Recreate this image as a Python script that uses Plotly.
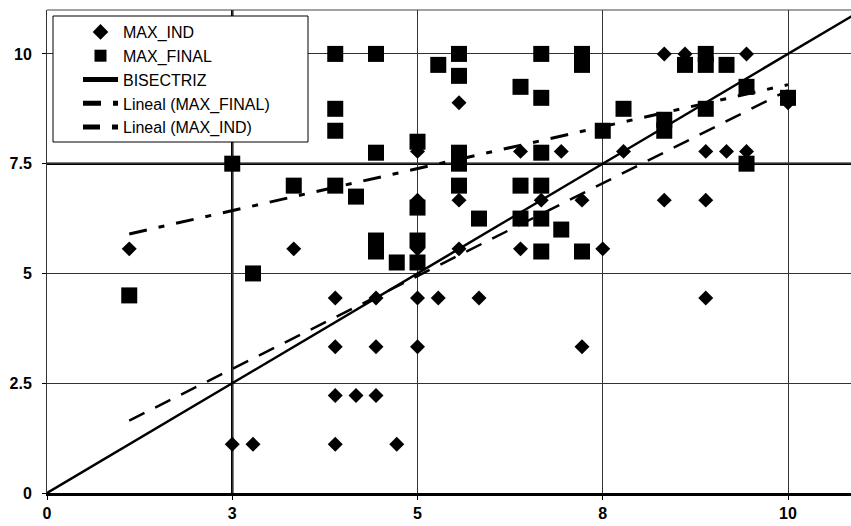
import plotly.graph_objects as go

# ---------------- data ----------------
IND_X = [2.5, 2.78, 3.89, 4.72,
         3.89, 4.17, 4.44,
         3.89, 4.44, 5.0, 7.22,
         3.89, 4.44, 5.0, 5.28, 5.83, 8.89,
         1.11, 3.33, 5.0, 5.56, 6.39, 7.5,
         5.0, 5.56, 6.67, 7.22, 8.33, 8.89,
         5.0, 6.39, 6.94, 7.78, 8.89, 9.17, 9.44,
         5.56, 10.0,
         8.33, 8.61, 9.44]
IND_Y = [1.11, 1.11, 1.11, 1.11,
         2.22, 2.22, 2.22,
         3.33, 3.33, 3.33, 3.33,
         4.44, 4.44, 4.44, 4.44, 4.44, 4.44,
         5.56, 5.56, 5.56, 5.56, 5.56, 5.56,
         6.67, 6.67, 6.67, 6.67, 6.67, 6.67,
         7.78, 7.78, 7.78, 7.78, 7.78, 7.78, 7.78,
         8.89, 8.89,
         10.0, 10.0, 10.0]

FINAL_X = [1.11, 2.5, 2.78, 3.33,
           3.89, 3.89, 3.89, 3.89,
           4.17,
           4.44, 4.44, 4.44, 4.44,
           4.72,
           5.0, 5.0, 5.0, 5.0,
           5.28,
           5.56, 5.56, 5.56, 5.56, 5.56,
           5.83,
           6.39, 6.39, 6.39,
           6.67, 6.67, 6.67, 6.67, 6.67, 6.67,
           6.94,
           7.22, 7.22, 7.22,
           7.5, 7.78,
           8.33, 8.33,
           8.61,
           8.89, 8.89, 8.89,
           9.17,
           9.44, 9.44,
           10.0]
FINAL_Y = [4.5, 7.5, 5.0, 7.0,
           10.0, 8.75, 8.25, 7.0,
           6.75,
           10.0, 7.75, 5.75, 5.5,
           5.25,
           8.0, 6.5, 5.75, 5.25,
           9.75,
           10.0, 9.5, 7.75, 7.5, 7.0,
           6.25,
           9.25, 7.0, 6.25,
           10.0, 9.0, 7.75, 7.0, 6.25, 5.5,
           6.0,
           10.0, 9.75, 5.5,
           8.25, 8.75,
           8.5, 8.25,
           9.75,
           10.0, 9.75, 8.75,
           9.75,
           9.25, 7.5,
           9.0]

BIS_X = [0, 11]
BIS_Y = [0, 11]

TREND_X = [1.11, 10.0]
TREND_FINAL_Y = [5.9, 9.3]
TREND_IND_Y = [1.65, 9.17]

X_TICKS = [0, 2.5, 5, 7.5, 10]
X_TICKTEXT = ["0", "3", "5", "8", "10"]
Y_TICKS = [0, 2.5, 5, 7.5, 10]
Y_TICKTEXT = ["0", "2.5", "5", "7.5", "10"]

REF_X = 2.5   # thick reference line (vertical)
REF_Y = 7.5   # thick reference line (horizontal)

# ---------------- layout constants ----------------
W, H = 851, 526
ML, MR, MT, MB = 47, 0, 10, 33
PW, PH = W - ML - MR, H - MT - MB
FONT = "Liberation Sans, Arial, sans-serif"


def px_x(p):
    return (p - ML) / PW


def px_y(p):
    return (H - MB - p) / PH


fig = go.Figure()

fig.add_trace(go.Scatter(
    x=IND_X, y=IND_Y, mode="markers", name="MAX_IND",
    marker=dict(symbol="diamond", size=11.5, color="black"),
))
fig.add_trace(go.Scatter(
    x=FINAL_X, y=FINAL_Y, mode="markers", name="MAX_FINAL",
    marker=dict(symbol="square", size=16, color="black"),
))
fig.add_trace(go.Scatter(
    x=BIS_X, y=BIS_Y, mode="lines", name="BISECTRIZ",
    line=dict(color="black", width=2.5),
))
fig.add_trace(go.Scatter(
    x=TREND_X, y=TREND_FINAL_Y, mode="lines", name="Lineal (MAX_FINAL)",
    line=dict(color="black", width=3, dash="18px,12px,6px,12px"),
))
fig.add_trace(go.Scatter(
    x=TREND_X, y=TREND_IND_Y, mode="lines", name="Lineal (MAX_IND)",
    line=dict(color="black", width=2.5, dash="17px,12px"),
))

fig.add_vline(x=REF_X, line=dict(color="black", width=2.5), layer="below")
fig.add_hline(y=REF_Y, line=dict(color="black", width=2.5), layer="below")

# top border of the plot area
fig.add_shape(type="line", xref="paper", yref="paper", x0=0, x1=1, y0=1, y1=1,
              line=dict(color="#444", width=1))

# legend box
fig.add_shape(type="rect", xref="paper", yref="paper",
              x0=px_x(53), x1=px_x(308), y0=px_y(142), y1=px_y(16),
              fillcolor="white", line=dict(color="black", width=1), layer="above")

fig.update_layout(
    width=W, height=H,
    margin=dict(l=ML, r=MR, t=MT, b=MB, pad=0),
    paper_bgcolor="white", plot_bgcolor="white",
    font=dict(family=FONT, color="black"),
    showlegend=True,
    legend=dict(
        x=px_x(78), y=px_y(15), xanchor="left", yanchor="top",
        bgcolor="rgba(0,0,0,0)", borderwidth=0,
        font=dict(family=FONT, size=16, color="black"),
        itemwidth=35, traceorder="normal", itemsizing="constant",
    ),
    xaxis=dict(
        range=[0, 10.85], tickvals=X_TICKS, ticktext=X_TICKTEXT,
        showgrid=True, gridcolor="#333", gridwidth=1,
        zeroline=False, showline=True, linecolor="black", linewidth=3,
        ticks="outside", ticklen=4, tickcolor="black",
        tickfont=dict(family=FONT, size=16, color="black", weight="bold"),
    ),
    yaxis=dict(
        range=[0, 11], tickvals=Y_TICKS, ticktext=Y_TICKTEXT,
        showgrid=True, gridcolor="#333", gridwidth=1,
        zeroline=False, showline=True, linecolor="#333", linewidth=1,
        ticks="outside", ticklen=4, tickcolor="black",
        ticklabelstandoff=7,
        tickfont=dict(family=FONT, size=16, color="black", weight="bold"),
    ),
)

fig.write_html("out.html")
